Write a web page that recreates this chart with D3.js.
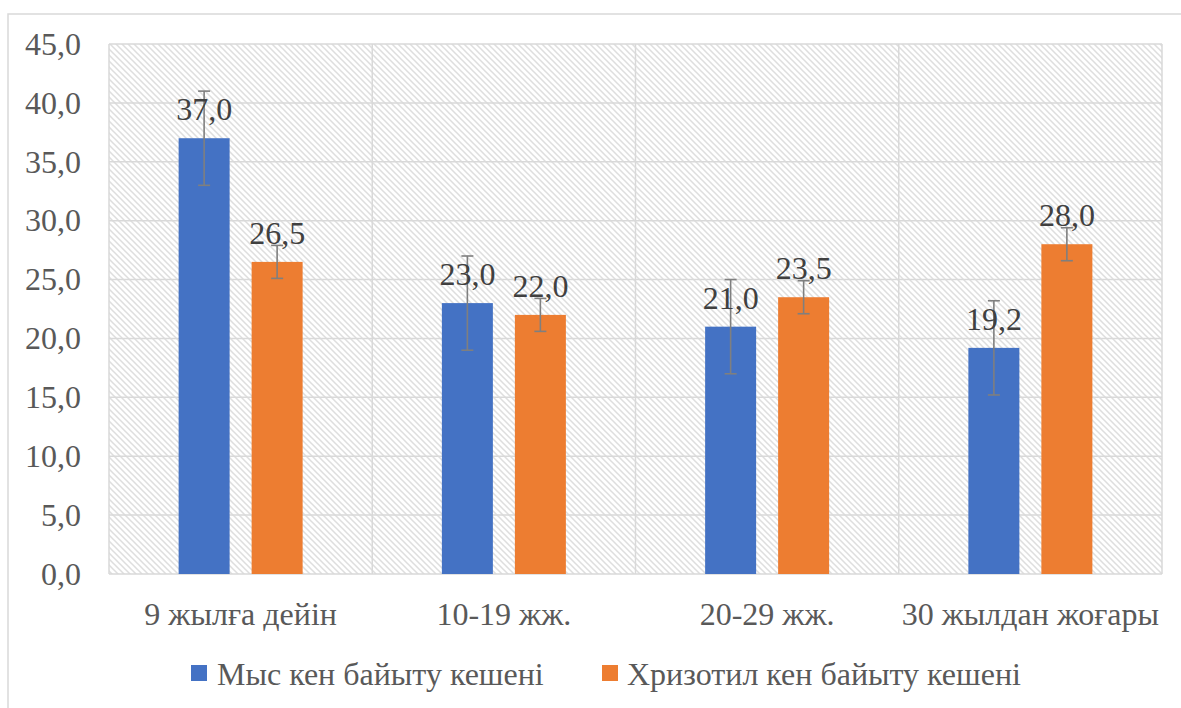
<!DOCTYPE html>
<html><head><meta charset="utf-8">
<script src="https://cdn.jsdelivr.net/npm/d3@7/dist/d3.min.js"></script>
</head><body style="margin:0">
<svg id="c" width="1181" height="708" font-family="Liberation Serif"></svg>
<script>
const categories = ["9 жылға дейін", "10-19 жж.", "20-29 жж.", "30 жылдан жоғары"];
const seriesNames = ["Мыс кен байыту кешені", "Хризотил кен байыту кешені"];
const copper = [37.0, 23.0, 21.0, 19.2];
const chrysotile = [26.5, 22.0, 23.5, 28.0];
const copperErr = [4.0, 4.0, 4.0, 4.0];
const chrysotileErr = [1.4, 1.4, 1.4, 1.4];
const yTicks = [0, 5, 10, 15, 20, 25, 30, 35, 40, 45];
const colors = ["#4472C4", "#ED7D31"];

const svg = d3.select("#c");
const FS = 32;
const L = 109, R = 1162, T = 44, B = 574;
function serif(sel) { return sel.style("font-family", '"Liberation Serif"').attr("font-family", "Liberation Serif").attr("font-size", FS); }

// outer border
svg.append("rect").attr("x", 8).attr("y", 14).attr("width", 1200).attr("height", 720)
  .attr("fill", "#fff").attr("stroke", "#d9d9d9").attr("stroke-width", 1.5);

const defs = svg.append("defs");
const pat = defs.append("pattern").attr("id", "hatch").attr("patternUnits", "userSpaceOnUse")
  .attr("width", 6).attr("height", 6);
pat.append("rect").attr("width", 6).attr("height", 6).attr("fill", "#fff");
pat.append("path").attr("d", "M-1,-1 L7,7 M-1,5 L1,7 M5,-1 L7,1")
  .attr("stroke", "#dedede").attr("stroke-width", 1.5);

const x0 = d3.scaleBand().domain(categories).range([L, R]).paddingInner(0).paddingOuter(0);
const y = d3.scaleLinear().domain([0, 45]).range([B, T]);

svg.append("rect").attr("x", L).attr("y", T).attr("width", R - L).attr("height", B - T)
  .attr("fill", "url(#hatch)");

// grid
svg.append("g").selectAll("line").data(yTicks).join("line")
  .attr("x1", L).attr("x2", R).attr("y1", d => y(d)).attr("y2", d => y(d))
  .attr("stroke", "#d9d9d9").attr("stroke-width", 1.5);
const vlines = categories.map(c => x0(c)).concat([R]);
svg.append("g").selectAll("line").data(vlines).join("line")
  .attr("x1", d => d).attr("x2", d => d).attr("y1", T).attr("y2", B)
  .attr("stroke", "#d9d9d9").attr("stroke-width", 1.5);

// y axis
const yAxis = d3.axisLeft(y).tickValues(yTicks).tickSize(0).tickPadding(28)
  .tickFormat(d => d3.format(".1f")(d).replace(".", ","));
const ya = svg.append("g").attr("transform", `translate(${L},0)`).call(yAxis);
ya.attr("font-family", "Liberation Serif").attr("font-size", FS);
ya.select(".domain").remove();
serif(ya.selectAll("text")).attr("fill", "#595959");

// x axis
const xAxis = d3.axisBottom(x0).tickSize(0);
const xa = svg.append("g").attr("transform", `translate(0,${B})`).call(xAxis);
xa.attr("font-family", "Liberation Serif").attr("font-size", FS);
xa.select(".domain").remove();
serif(xa.selectAll("text")).attr("y", 51).attr("dy", 0).attr("fill", "#595959");

const bw = 51, gap = 22;
const x1 = d3.scaleBand().domain([0, 1]).range([0, 2 * bw + gap]).paddingInner(gap / (bw + gap));
const data = categories.map((c, i) => [
  {c, s: 0, v: copper[i], e: copperErr[i]},
  {c, s: 1, v: chrysotile[i], e: chrysotileErr[i]}
]).flat();
const off = (x0.bandwidth() - (2 * bw + gap)) / 2;
const bx = d => x0(d.c) + off + x1(d.s);

svg.append("g").selectAll("rect").data(data).join("rect")
  .attr("x", bx).attr("width", x1.bandwidth())
  .attr("y", d => y(d.v)).attr("height", d => y(0) - y(d.v))
  .attr("fill", d => colors[d.s]);

// error bars
const eg = svg.append("g").attr("stroke", "#7f7f7f").attr("stroke-width", 1.6);
data.forEach(d => {
  const cx = bx(d) + x1.bandwidth() / 2;
  eg.append("line").attr("x1", cx).attr("x2", cx).attr("y1", y(d.v + d.e)).attr("y2", y(d.v - d.e));
  eg.append("line").attr("x1", cx - 6).attr("x2", cx + 6).attr("y1", y(d.v + d.e)).attr("y2", y(d.v + d.e));
  eg.append("line").attr("x1", cx - 6).attr("x2", cx + 6).attr("y1", y(d.v - d.e)).attr("y2", y(d.v - d.e));
});

// labels
serif(svg.append("g").selectAll("text").data(data).join("text")
  .attr("x", d => bx(d) + x1.bandwidth() / 2).attr("y", d => y(d.v) - 18)
  .attr("text-anchor", "middle"))
  .attr("fill", "#404040").text(d => d3.format(".1f")(d.v).replace(".", ","));

// legend
const leg = [{x: 191, tx: 217, i: 0}, {x: 602, tx: 627, i: 1}];
leg.forEach(l => {
  svg.append("rect").attr("x", l.x).attr("y", 665).attr("width", 16).attr("height", 16).attr("fill", colors[l.i]);
  serif(svg.append("text").attr("x", l.tx).attr("y", 685))
    .attr("fill", "#595959").text(seriesNames[l.i]);
});
</script>
</body></html>
